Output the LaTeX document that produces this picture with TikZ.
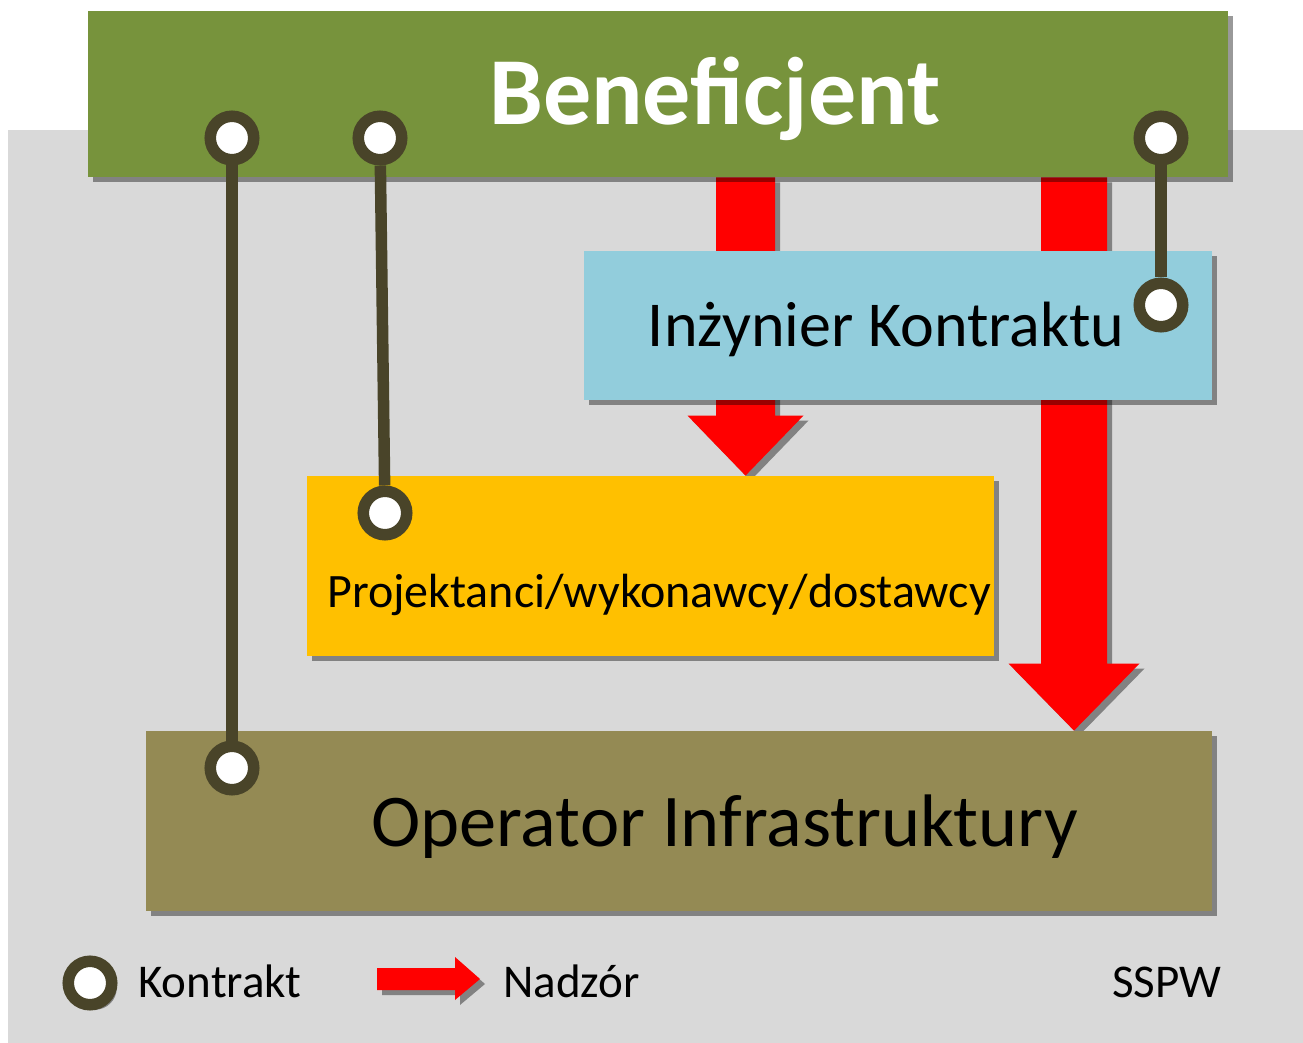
\documentclass[tikz,border=0pt]{standalone}
\usepackage{fontspec}
\setmainfont{Carlito}
\usetikzlibrary{calc,shadows}
\pgfdeclarelayer{background}
\pgfsetlayers{background,main}
\definecolor{benegreen}{HTML}{77933C}
\definecolor{ikblue}{HTML}{92CDDC}
\definecolor{projyellow}{HTML}{FFC000}
\definecolor{opolive}{HTML}{948A54}
\definecolor{bggray}{HTML}{D9D9D9}
\definecolor{ringbrown}{HTML}{494429}
% vertical supervision arrow: start, tip, half shaft, half head, head length
\newcommand{\nadzorarrow}[5]{%
  \fill[nadzor] ($(#1)+(-#3,0)$) -- ($(#1)+(#3,0)$) -- ($(#2)+(#3,-#5)$)
    -- ($(#2)+(#4,-#5)$) -- (#2) -- ($(#2)+(-#4,-#5)$) -- ($(#2)+(-#3,-#5)$) -- cycle;}

\begin{document}
\begin{tikzpicture}[
            x=0.5pt, y=-0.5pt,
            shade/.style={drop shadow={shadow xshift=2.5pt, shadow yshift=-2.5pt, fill=black, opacity=.4}},
            box/.style={rectangle, inner sep=0pt, shade},
            ring/.style={circle, draw=ringbrown, line width=5.75pt, fill=white, minimum size=21.75pt, inner sep=0pt},
            kontrakt/.style={draw=ringbrown, line width=5.75pt},
            nadzor/.style={fill=red, shade},
            boxtext/.style={anchor=base, inner sep=0pt},
            legtext/.style={inner sep=0pt, font=\fontsize{23.5}{28}\selectfont}
        ]

        \useasboundingbox (0,0) rectangle (1303,1043);

        % Boxes
        \node[box, fill=benegreen, minimum width=570pt, minimum height=83pt] (ben) at (658,94) {};
        \node[box, fill=ikblue, minimum width=314pt, minimum height=74.5pt] (ik) at (898,325.5) {};
        \node[box, fill=projyellow, minimum width=343.5pt, minimum height=90pt] (proj) at (650.5,566) {};
        \node[box, fill=opolive, minimum width=533pt, minimum height=90pt] (op) at (679,821) {};

        \node[boxtext, text=white, font=\fontsize{48}{58}\selectfont\bfseries] (bentxt) at (715,125) {Beneficjent};
        \node[boxtext, font=\fontsize{32}{38}\selectfont] (iktxt) at (886,347) {Inżynier Kontraktu};
        \node[boxtext, font=\fontsize{24}{29}\selectfont] (projtxt) at (659,607) {Projektanci/wykonawcy/dostawcy};
        \node[boxtext, font=\fontsize{37.2}{45}\selectfont] (optxt) at (724.5,846) {Operator Infrastruktury};

        % Supervision arrows, behind the boxes
        \begin{pgfonlayer}{background}
        \fill[white] (0,0) rectangle (1303,1043);
        \fill[bggray] (8,130) rectangle (1303,1043);
        \coordinate (n1s) at (745.5,0 |- ben.south);
        \coordinate (n1t) at (745.5,0 |- proj.north);
        \coordinate (n2s) at (1074,0 |- ben.south);
        \coordinate (n2t) at (1074,0 |- op.north);
        \nadzorarrow{n1s}{n1t}{29.5}{58}{60}
        \nadzorarrow{n2s}{n2t}{33}{65.5}{67}
        \end{pgfonlayer}

        % Contracts
        \node[ring] (kb1) at (232,138) {};
        \node[ring] (kb2) at (380,138) {};
        \node[ring] (kb3) at (1161,138) {};
        \node[ring] (ko) at (232,768) {};
        \node[ring] (kp) at (385,513) {};
        \node[ring] (ki) at (1161,305) {};
        \draw[kontrakt] (kb1) -- (ko);
        \draw[kontrakt] (kb2) -- (kp);
        \draw[kontrakt] (kb3) -- (ki);

        % Legend
        \node[ring, shade] (lk) at (90,983) {};
        \node[legtext, anchor=base west] (lktxt) at (138,997) {Kontrakt};
        \fill[nadzor] (377,968) -- (455,968) -- (455,957) -- (480,979) -- (455,1000) -- (455,990) -- (377,990) -- cycle;
        \node[legtext, anchor=base west] (lntxt) at (503,997) {Nadzór};
        \node[legtext, anchor=base east] (sspw) at (1222,997) {SSPW};

        \end{tikzpicture}
\end{document}
